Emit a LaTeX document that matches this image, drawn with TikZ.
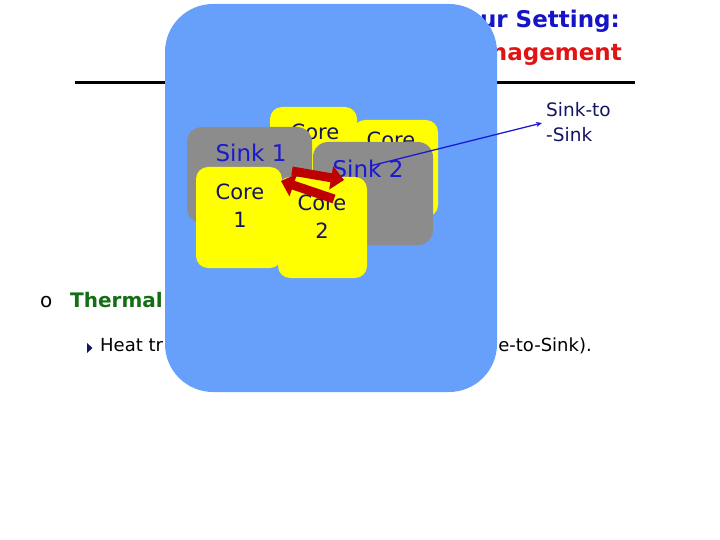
\documentclass[tikz,border=0pt]{standalone}
\usepackage{fontspec}
\setmainfont{DejaVu Sans}
\usetikzlibrary{arrows.meta}
\definecolor{boxblue}{RGB}{102,160,250}
\definecolor{titleblue}{RGB}{20,20,200}
\definecolor{titlered}{RGB}{225,20,20}
\definecolor{thgreen}{RGB}{20,110,20}
\definecolor{navy}{RGB}{20,20,100}
\definecolor{sinkblue}{RGB}{25,25,210}
\definecolor{sinkgray}{RGB}{140,140,140}
\definecolor{coreyellow}{RGB}{255,255,0}
\definecolor{arrowred}{RGB}{190,0,0}
\tikzset{
  titletext/.style={inner sep=0pt, font=\fontsize{23}{27}\selectfont\bfseries},
  bodytext/.style={inner sep=0pt, font=\fontsize{18}{22}\selectfont},
  coretext/.style={inner sep=0pt, text=navy, font=\fontsize{21}{25}\selectfont},
  sinktext/.style={inner sep=0pt, text=sinkblue, font=\fontsize{23}{27}\selectfont},
  corebox/.style={fill=coreyellow, rounded corners=12pt},
  sinkbox/.style={fill=sinkgray, rounded corners=15pt},
  redarrow/.style={draw=arrowred, line width=9pt, -{Triangle[width=23pt,length=13pt]}},
  labeltext/.style={inner sep=0pt, text=navy, font=\fontsize{18.5}{22}\selectfont}
}
\begin{document}
\begin{tikzpicture}[x=1pt,y=-1pt]
\useasboundingbox (0,0) rectangle (720,540);
\fill[white] (0,0) rectangle (720,540);
% title
\node[titletext, text=titleblue, anchor=base east] (title1) at (620,28) {ur Setting:};
\node[titletext, text=titlered, anchor=base east] (title2) at (622,61) {nagement};
\draw[line width=3pt] (75,83) -- (635,83);
% bullets
\node[bodytext, anchor=base west, font=\fontsize{20}{24}\selectfont] (bullet) at (40,307) {o};
\node[bodytext, anchor=base west, text=thgreen, font=\fontsize{20}{24}\selectfont\bfseries] (thermal) at (70,307) {Thermal};
\fill[navy] (87,343) -- (92.5,348) -- (87,353) -- cycle;
\node[bodytext, anchor=base west] (heat) at (100,351) {Heat tr};
\node[bodytext, anchor=base east] (tosink) at (592,351) {e-to-Sink).};
% big blue panel
\fill[boxblue, rounded corners=48pt] (165,4) rectangle (497,392);
% back cores
\fill[corebox] (270,107) rectangle (357,210);
\node[coretext, anchor=base] (corebl) at (315,140) {Core};
\fill[corebox] (353,120) rectangle (438,217);
\node[coretext, anchor=base] (corebr) at (391,148) {Core};
% sinks
\fill[sinkbox] (187,127) rectangle (312,223);
\node[sinktext, anchor=base] (sink1) at (251,162) {Sink 1};
\fill[sinkbox] (313,142) rectangle (433,245);
\node[sinktext, anchor=base] (sink2) at (368,178) {Sink 2};
% front cores
\fill[corebox] (196,167) rectangle (282,268);
\node[coretext, anchor=base] (core1a) at (240,200) {Core};
\node[coretext, anchor=base] (core1b) at (240,228) {1};
\fill[corebox] (278,177) rectangle (367,278);
\node[coretext, anchor=base] (core2a) at (322,211) {Core};
\node[coretext, anchor=base] (core2b) at (322,239) {2};
% red arrows
\coordinate (ra1) at (292,171);
\coordinate (ra2) at (344,180);
\coordinate (rb1) at (334,199);
\coordinate (rb2) at (281,181);
\draw[redarrow] (ra1) -- (ra2);
\draw[redarrow] (rb1) -- (rb2);
% sink-to-sink label
\node[labeltext, anchor=base west] (lab1) at (546,117) {Sink-to};
\node[labeltext, anchor=base west] (lab2) at (546,142) {-Sink};
\coordinate (lstart) at (370,166);
\coordinate (lend) at (542,123);
\draw[sinkblue, line width=1.3pt, -{Stealth[length=6pt,width=5pt]}] (lstart) -- (lend);
\end{tikzpicture}
\end{document}
